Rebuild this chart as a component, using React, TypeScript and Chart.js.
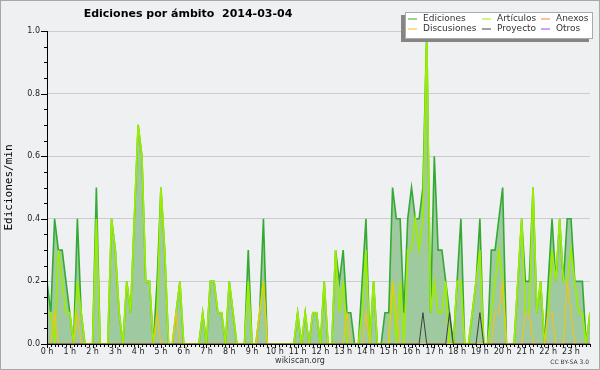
import React, { useEffect, useRef } from 'react';
import { Chart, registerables } from 'chart.js';

Chart.register(...registerables);

// 10-minute slots of the day (categories)
const SLOTS: string[] = Array.from({ length: 144 }, (_, i) => `${Math.floor(i / 6)}:${String((i % 6) * 10).padStart(2, '0')}`);
const HOUR_LABELS = ['0 h','1 h','2 h','3 h','4 h','5 h','6 h','7 h','8 h','9 h','10 h','11 h','12 h','13 h','14 h','15 h','16 h','17 h','18 h','19 h','20 h','21 h','22 h','23 h'];
const Y_TICK_LABELS = ['0.0', '0.2', '0.4', '0.6', '0.8', '1.0'];

const EDICIONES = [
  0.2,0.1,0.4,0.3,0.3,0.2,0.1,0,0.4,0.1,0,0,
  0,0.5,0,0,0,0.4,0.3,0.1,0,0.2,0.1,0.4,
  0.7,0.6,0.2,0.2,0,0.2,0.5,0.3,0,0,0.1,0.2,
  0,0,0,0,0,0.1,0,0.2,0.2,0.1,0.1,0,
  0.2,0.1,0,0,0,0.3,0,0,0.1,0.4,0,0,
  0,0,0,0,0,0,0.1,0,0.1,0,0.1,0.1,
  0,0.2,0,0,0.3,0.2,0.3,0.1,0.1,0,0,0.2,
  0.4,0,0.2,0,0,0.1,0.1,0.5,0.4,0.4,0.1,0.4,
  0.5,0.4,0.4,0.5,1.0,0.1,0.6,0.3,0.3,0.2,0.1,0,
  0.2,0.4,0,0,0.1,0.2,0.4,0,0,0.3,0.3,0.4,
  0.5,0,0,0,0.2,0.4,0.2,0.2,0.5,0.1,0.2,0,
  0.2,0.4,0.2,0.4,0.2,0.4,0.4,0.2,0.2,0.2,0,0.1,
];

const ARTICULOS = [
  0.1,0.1,0,0.3,0.2,0.1,0.1,0,0.2,0.1,0,0,
  0,0.4,0,0,0,0.4,0.3,0.1,0,0.2,0.1,0.4,
  0.7,0.6,0.2,0.2,0,0.1,0.5,0.3,0,0,0.1,0.2,
  0,0,0,0,0,0.1,0,0.2,0.2,0.1,0.1,0,
  0.2,0.1,0,0,0,0.2,0,0,0.1,0.2,0,0,
  0,0,0,0,0,0,0.1,0,0.1,0,0.1,0.1,
  0,0.2,0,0,0.3,0.1,0.2,0,0,0,0,0.1,
  0.3,0,0.2,0,0,0,0,0.2,0,0.2,0,0.3,
  0.3,0.4,0.3,0.4,1.0,0.1,0.2,0.1,0.1,0.2,0,0,
  0.2,0.2,0,0,0.1,0.2,0.3,0,0,0.1,0.2,0.3,
  0.2,0,0,0,0.2,0.4,0.1,0.1,0.5,0.1,0.2,0,
  0.1,0.3,0.2,0.4,0.2,0.2,0.3,0.2,0.1,0.1,0,0.1,
];

const DISCUSIONES = [
  0,0,0.1,0,0,0,0,0,0.1,0,0,0,
  0,0,0,0,0,0,0,0,0,0,0,0,
  0,0,0,0,0,0.1,0,0,0,0,0.1,0,
  0,0,0,0,0,0,0,0,0,0,0,0,
  0,0,0,0,0,0,0,0,0.1,0.2,0,0,
  0,0,0,0,0,0,0,0,0,0,0,0,
  0,0,0,0,0,0,0,0.1,0,0,0,0,
  0.1,0,0,0,0,0,0,0.2,0.1,0,0,0,
  0,0,0,0,0,0,0,0,0,0,0,0,
  0,0,0,0,0,0,0,0,0,0,0.1,0.1,
  0.2,0,0,0,0,0,0.1,0.1,0,0,0,0,
  0.1,0.1,0,0,0,0.2,0.1,0,0,0,0,0,
];

const PROYECTO = [
  0,0,0,0,0,0,0,0,0,0,0,0,
  0,0,0,0,0,0,0,0,0,0,0,0,
  0,0,0,0,0,0,0,0,0,0,0,0,
  0,0,0,0,0,0,0,0,0,0,0,0,
  0,0,0,0,0,0,0,0,0,0,0,0,
  0,0,0,0,0,0,0,0,0,0,0,0,
  0,0,0,0,0,0,0,0,0,0,0,0,
  0,0,0,0,0,0,0,0,0,0,0,0,
  0,0,0,0.1,0,0,0,0,0,0,0.1,0,
  0,0,0,0,0,0,0.1,0,0,0,0,0,
  0,0,0,0,0,0,0,0,0,0,0,0,
  0,0,0,0,0,0,0,0,0,0,0,0,
];

const ANEXOS = [
  0,0,0,0,0,0,0,0,0,0,0,0,
  0,0,0,0,0,0,0,0,0,0,0,0,
  0,0,0,0,0,0,0,0,0,0,0,0,
  0,0,0,0,0,0,0,0,0,0,0,0,
  0,0,0,0,0,0,0,0,0,0,0,0,
  0,0,0,0,0,0,0,0,0,0,0,0,
  0,0,0,0,0,0,0,0,0,0,0,0,
  0,0,0,0,0,0,0,0,0,0,0,0,
  0,0,0,0,0,0,0,0,0,0,0,0,
  0,0,0,0,0,0,0,0,0,0,0,0,
  0,0,0,0,0,0,0,0,0,0,0,0,
  0,0,0,0,0,0,0,0,0,0,0,0,
];

const OTROS = [
  0,0,0,0,0,0,0,0,0,0,0,0,
  0,0,0,0,0,0,0,0,0,0,0,0,
  0,0,0,0,0,0,0,0,0,0,0,0,
  0,0,0,0,0,0,0,0,0,0,0,0,
  0,0,0,0,0,0,0,0,0,0,0,0,
  0,0,0,0,0,0,0,0,0,0,0,0,
  0,0,0,0,0,0,0,0,0,0,0,0,
  0,0,0,0,0,0,0,0,0,0,0,0,
  0,0,0,0,0,0,0,0,0,0,0,0,
  0,0,0,0,0,0,0,0,0,0,0,0,
  0,0,0,0,0,0,0,0,0,0,0,0,
  0,0,0,0,0,0,0,0,0,0,0,0,
];

const TITLE = 'Ediciones por ámbito  2014-03-04';
const Y_TITLE = 'Ediciones/min';
const FOOTER = 'wikiscan.org';
const LICENSE = 'CC BY-SA 3.0';

const BG = '#eff0f2';
const FONT = '"DejaVu Sans", Verdana, sans-serif';

// legend grid: [col, row] for each dataset label
const LEGEND_SLOTS: Record<string, [number, number]> = {
  'Ediciones': [0, 0],
  'Discusiones': [0, 1],
  'Artículos': [1, 0],
  'Proyecto': [1, 1],
  'Anexos': [2, 0],
  'Otros': [2, 1],
};

const decorPlugin = {
  id: 'decor',
  beforeDraw(chart: any) {
    const { ctx, width, height } = chart;
    ctx.save();
    ctx.fillStyle = BG;
    ctx.fillRect(0, 0, width, height);
    ctx.restore();
  },
  afterDraw(chart: any) {
    const { ctx, chartArea, width, height } = chart;
    const xs = chart.scales.x;
    const ys = chart.scales.y;
    ctx.save();
    // tick marks
    ctx.strokeStyle = '#000';
    ctx.lineWidth = 1;
    ctx.beginPath();
    xs.ticks.forEach((_t: any, i: number) => {
      const px = Math.round(xs.getPixelForTick(i)) + 0.5;
      ctx.moveTo(px, chartArea.bottom);
      ctx.lineTo(px, chartArea.bottom + (i % 6 === 0 ? 4 : 3));
    });
    ys.ticks.forEach((t: any, i: number) => {
      const py = Math.round(ys.getPixelForTick(i)) + 0.5;
      const major = Math.round(t.value * 100) % 20 === 0;
      ctx.moveTo(chartArea.left - (major ? 6 : 3), py);
      ctx.lineTo(chartArea.left, py);
    });
    ctx.stroke();

    // title
    ctx.fillStyle = '#000';
    ctx.font = `bold 11px ${FONT}`;
    ctx.textAlign = 'center';
    ctx.textBaseline = 'middle';
    ctx.fillText(TITLE, 188, 14);

    // footer
    ctx.fillStyle = '#333';
    ctx.font = `8px ${FONT}`;
    ctx.fillText(FOOTER, 300, 361);
    ctx.font = `6px ${FONT}`;
    ctx.textAlign = 'right';
    ctx.fillText(LICENSE, chartArea.right - 1, 362);

    // legend
    const lx = 405, ly = 12, lw = 188, lh = 27;
    ctx.fillStyle = '#858585';
    ctx.fillRect(lx - 4, ly + 3, lw, lh);
    ctx.fillStyle = '#ffffff';
    ctx.fillRect(lx, ly, lw, lh);
    ctx.strokeStyle = '#aaaaaa';
    ctx.strokeRect(lx + 0.5, ly + 0.5, lw - 1, lh - 1);
    const colX = [408, 482, 541];
    const rowY = [19, 29];
    ctx.font = `9px ${FONT}`;
    ctx.textAlign = 'left';
    ctx.textBaseline = 'middle';
    chart.data.datasets.forEach((ds: any) => {
      const slot = LEGEND_SLOTS[ds.label];
      if (!slot) return;
      const x = colX[slot[0]];
      const y = rowY[slot[1]];
      ctx.strokeStyle = ds.borderColor;
      ctx.lineWidth = 1;
      ctx.beginPath();
      ctx.moveTo(x, y);
      ctx.lineTo(x + 9, y);
      ctx.stroke();
      ctx.fillStyle = '#333';
      ctx.fillText(ds.label, x + 15, y);
    });

    // outer frame
    ctx.strokeStyle = '#a8a8a8';
    ctx.lineWidth = 1;
    ctx.strokeRect(0.5, 0.5, width - 1, height - 1);
    ctx.restore();
  },
};

export default function App() {
  const ref = useRef<HTMLCanvasElement | null>(null);

  useEffect(() => {
    document.body.style.margin = '0';
    const canvas = ref.current;
    if (!canvas) return;
    const line = (label: string, data: number[], color: string, width: number, order: number, extra: any = {}) => ({
      label,
      data,
      borderColor: color,
      borderWidth: width,
      pointRadius: 0,
      tension: 0,
      fill: false,
      order,
      clip: 0,
      ...extra,
    });
    const chart = new Chart(canvas, {
      type: 'line',
      data: {
        labels: SLOTS,
        datasets: [
          line('Ediciones', EDICIONES, '#34aa34', 1.6, 10, { fill: 'origin', backgroundColor: '#9fc99f' }),
          line('Artículos', ARTICULOS, '#9cee00', 1.7, 5),
          line('Anexos', ANEXOS, '#ff7f40', 1, 6),
          line('Discusiones', DISCUSIONES, '#f4c414', 1.1, 4),
          line('Proyecto', PROYECTO, '#404040', 1, 3),
          line('Otros', OTROS, '#9944ff', 1, 7),
        ],
      },
      options: {
        responsive: false,
        animation: false,
        events: [],
        layout: { padding: { top: 31, right: 10, left: 0, bottom: 0 } },
        plugins: { legend: { display: false }, tooltip: { enabled: false }, title: { display: false } },
        scales: {
          x: {
            type: 'category',
            offset: false,
            grid: { display: false, drawTicks: false },
            border: { display: true, color: '#000', width: 1, z: 1 },
            ticks: {
              autoSkip: false,
              maxRotation: 0,
              minRotation: 0,
              padding: 3,
              color: '#222',
              font: { family: FONT, size: 8 },
              callback: (_v: any, index: number) => (index % 6 === 0 ? HOUR_LABELS[index / 6] : ''),
            },
            afterFit: (scale: any) => { scale.height = 26; },
          },
          y: {
            min: 0,
            max: 1,
            grid: {
              drawTicks: false,
              color: (c: any) => (c.tick && Math.round(c.tick.value * 100) % 20 === 0 ? '#cccccc' : 'rgba(0,0,0,0)'),
            },
            border: { display: true, color: '#000', width: 1, z: 1 },
            ticks: {
              stepSize: 0.05,
              autoSkip: false,
              padding: 7,
              color: '#222',
              font: { family: FONT, size: 8 },
              callback: (v: any) => {
                const k = Math.round(Number(v) * 100);
                return k % 20 === 0 ? Y_TICK_LABELS[k / 20] : '';
              },
            },
            title: {
              display: true,
              text: Y_TITLE,
              color: '#000',
              font: { family: '"DejaVu Sans Mono", monospace', size: 11 },
              padding: { top: 3, bottom: 0 },
            },
            afterFit: (scale: any) => { scale.width = 47; },
          },
        },
      },
      plugins: [decorPlugin],
    });
    return () => chart.destroy();
  }, []);

  return (
    <div style={{ position: 'absolute', left: 0, top: 0, width: 600, height: 370 }}>
      <canvas ref={ref} width={600} height={370} style={{ display: 'block', width: 600, height: 370 }} />
    </div>
  );
}
